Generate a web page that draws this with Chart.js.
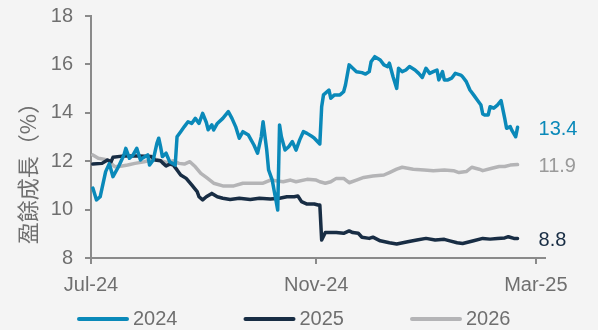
<!DOCTYPE html>
<html>
<head>
<meta charset="utf-8">
<script src="https://cdn.jsdelivr.net/npm/chart.js@4.4.0/dist/chart.umd.min.js"></script>
<style>
  html, body { margin: 0; padding: 0; background: #f4f4f4; }
  canvas { display: block; }
</style>
</head>
<body>
<canvas id="chart" width="598" height="330"></canvas>
<script>
// x values are days counted from 1 Jul 2024
const xTickDays = [0, 123, 243]
const xTickLabels = ["Jul-24", "Nov-24", "Mar-25"]
const yTitle = "盈餘成長（%）"
const seriesNames = ["2024", "2025", "2026"]

const days2024 = [
  1, 3, 5, 8, 10, 12, 15, 18, 19, 21,
  23, 25, 27, 28, 31, 32, 34, 36, 37, 38,
  39, 41, 43, 46, 47, 49, 51, 53, 55, 57,
  59, 61, 63, 64, 66, 67, 69, 72, 75, 77,
  79, 81, 83, 86, 89, 91, 93, 94, 96, 97,
  99, 100, 101, 102, 103, 104, 106, 108, 110, 112,
  114, 116, 118, 121, 122, 125, 126, 127, 130, 131,
  133, 136, 138, 139, 141, 142, 145, 148, 150, 152,
  153, 155, 158, 160, 162, 163, 165, 167, 168, 170,
  172, 174, 177, 179, 181, 183, 185, 187, 189, 190,
  192, 193, 195, 197, 199, 202, 203, 205, 207, 209,
  211, 213, 214, 215, 217, 218, 220, 222, 224, 226,
  227, 229, 230, 232, 233
]
const values2024 = [
  10.89, 10.4, 10.53, 11.57, 11.9, 11.36, 11.77, 12.26, 12.53, 12.12,
  12.26, 12.53, 12.05, 12.12, 12.26, 11.84, 12.05, 12.74, 12.95, 12.6,
  12.19, 12.33, 11.98, 11.84, 13.01, 13.22, 13.43, 13.63, 13.56, 13.77,
  13.56, 13.98, 13.6, 13.3, 13.5, 13.29, 13.56, 13.77, 14.05, 13.77,
  13.43, 12.95, 13.22, 13.08, 12.67, 12.33, 13.01, 13.63, 12.46, 11.64,
  11.22, 10.8, 10.4, 9.98, 13.5, 13.01, 12.46, 12.6, 12.81, 12.46,
  12.88, 13.22, 13.15, 13.01, 12.95, 12.71, 14.25, 14.74, 14.94, 14.6,
  14.74, 14.74, 14.87, 15.15, 15.98, 15.91, 15.7, 15.66, 15.6, 15.7,
  16.11, 16.32, 16.18, 15.98, 15.91, 16.05, 15.49, 15.01, 15.84, 15.7,
  15.77, 15.91, 15.77, 15.63, 15.46, 15.84, 15.63, 15.7, 15.77, 15.36,
  15.7, 15.36, 15.36, 15.43, 15.63, 15.56, 15.49, 15.29, 14.94, 14.74,
  14.53, 14.32, 13.95, 13.91, 13.91, 14.25, 14.19, 14.32, 14.5, 13.77,
  13.36, 13.43, 13.26, 13.01, 13.4
]

const days2025 = [
  1, 6, 9, 11, 12, 17, 26, 33, 35, 38,
  39, 41, 43, 45, 47, 49, 52, 55, 58, 59,
  61, 63, 66, 69, 72, 76, 81, 87, 92, 98,
  103, 107, 111, 113, 115, 118, 122, 124, 125, 126,
  128, 134, 138, 141, 143, 146, 148, 152, 154, 158,
  163, 167, 173, 178, 183, 188, 193, 196, 200, 203,
  209, 214, 218, 222, 226, 228, 231, 233
]
const values2025 = [
  11.88, 11.91, 12.05, 11.98, 12.16, 12.21, 12.21, 12.19, 12.05, 12.02,
  11.94, 11.8, 11.88, 11.84, 11.64, 11.43, 11.29, 11.02, 10.74, 10.53,
  10.4, 10.53, 10.67, 10.53, 10.47, 10.42, 10.47, 10.42, 10.47, 10.44,
  10.47, 10.53, 10.53, 10.56, 10.33, 10.23, 10.23, 10.19, 10.19, 8.74,
  9.05, 9.05, 9.02, 9.12, 9.05, 9.02, 8.86, 8.81, 8.86, 8.71,
  8.63, 8.58, 8.67, 8.74, 8.81, 8.74, 8.77, 8.71, 8.63, 8.6,
  8.71, 8.81, 8.78, 8.81, 8.83, 8.88, 8.81, 8.81
]

const days2026 = [
  1, 4, 7, 9, 11, 13, 17, 20, 24, 29,
  35, 38, 42, 45, 48, 51, 54, 57, 60, 63,
  67, 72, 78, 83, 89, 94, 98, 101, 105, 109,
  112, 118, 123, 125, 128, 131, 134, 138, 141, 145,
  149, 154, 160, 163, 167, 170, 173, 176, 182, 187,
  193, 198, 201, 205, 208, 212, 214, 219, 223, 226,
  229, 233
]
const values2026 = [
  12.26, 12.12, 12.08, 12.05, 11.91, 11.77, 11.8, 11.84, 11.91, 11.98,
  12.08, 12.02, 11.94, 12.02, 11.91, 11.88, 11.98, 11.77, 11.5, 11.33,
  11.09, 10.98, 10.98, 11.09, 11.09, 11.09, 11.22, 11.19, 11.15, 11.22,
  11.15, 11.25, 11.22, 11.15, 11.09, 11.15, 11.29, 11.29, 11.11, 11.22,
  11.33, 11.39, 11.43, 11.53, 11.67, 11.75, 11.71, 11.67, 11.64, 11.61,
  11.64, 11.61, 11.53, 11.57, 11.75, 11.67, 11.61, 11.71, 11.78, 11.78,
  11.84, 11.86
]

const lineColors = ["#0a89b9", "#182d44", "#b4b4b6"]
const labelColors = ["#0a89b9", "#182d44", "#9a9a9a"]
const textColor = "#6f6f6f"
const axisColor = "#8a8a8a"
const fontFamily = "'Liberation Sans', Arial, 'Noto Sans CJK TC', sans-serif"

function toPoints(days, values) {
  return days.map((d, i) => ({ x: d, y: values[i] }))
}

// value labels at the end of each line
const endLabels = {
  id: "endLabels",
  afterDatasetsDraw(chart) {
    const ctx = chart.ctx
    ctx.save()
    ctx.font = "20px " + fontFamily
    ctx.textAlign = "left"
    ctx.textBaseline = "middle"
    chart.data.datasets.forEach((ds, i) => {
      const meta = chart.getDatasetMeta(i)
      const last = meta.data[meta.data.length - 1]
      ctx.fillStyle = labelColors[i]
      ctx.fillText(ds.data[ds.data.length - 1].y.toFixed(1), last.x + 21, last.y + 2)
    })
    ctx.restore()
  },
}

// y title and legend row
const extras = {
  id: "extras",
  afterDraw(chart) {
    const ctx = chart.ctx
    ctx.save()
    ctx.fillStyle = textColor
    ctx.font = "22px 'Noto Sans CJK TC', sans-serif"
    ctx.textAlign = "center"
    ctx.textBaseline = "middle"
    ctx.translate(28, 168)
    ctx.rotate(-Math.PI / 2)
    ctx.fillText(yTitle, 0, 0)
    ctx.restore()

    ctx.save()
    ctx.font = "20px " + fontFamily
    ctx.textBaseline = "middle"
    ctx.textAlign = "left"
    const y = 319
    chart.data.datasets.forEach((ds, i) => {
      const x = 79 + i * 166.5
      ctx.strokeStyle = ds.borderColor
      ctx.lineWidth = 4
      ctx.lineCap = "round"
      ctx.beginPath()
      ctx.moveTo(x, y)
      ctx.lineTo(x + 48, y)
      ctx.stroke()
      ctx.fillStyle = textColor
      ctx.fillText(ds.label, x + 54, y)
    })
    ctx.restore()
  },
}

new Chart(document.getElementById("chart"), {
  type: "line",
  data: {
    datasets: [
      { label: seriesNames[0], data: toPoints(days2024, values2024) },
      { label: seriesNames[1], data: toPoints(days2025, values2025) },
      { label: seriesNames[2], data: toPoints(days2026, values2026) },
    ].map((ds, i) => ({
      ...ds,
      borderColor: lineColors[i],
      backgroundColor: lineColors[i],
      borderWidth: 3.5,
      pointRadius: 0,
      tension: 0,
      borderJoinStyle: "round",
      borderCapStyle: "round",
    })),
  },
  options: {
    responsive: false,
    animation: false,
    devicePixelRatio: 1,
    layout: { padding: { left: 0, right: 53, top: 16, bottom: 0 } },
    plugins: {
      legend: { display: false },
      tooltip: { enabled: false },
    },
    scales: {
      x: {
        type: "linear",
        min: 0,
        max: 248,
        afterBuildTicks: (scale) => {
          scale.ticks = xTickDays.map((v) => ({ value: v }))
        },
        afterFit: (scale) => {
          scale.height = 72
        },
        ticks: {
          color: textColor,
          font: { family: fontFamily, size: 20 },
          padding: 9,
          maxRotation: 0,
          autoSkip: false,
          callback: (value) => xTickLabels[xTickDays.indexOf(value)],
        },
        grid: { drawOnChartArea: false, color: axisColor, lineWidth: 2, tickLength: 6 },
        border: { color: axisColor, width: 2 },
      },
      y: {
        min: 8,
        max: 18,
        afterFit: (scale) => {
          scale.width = 91
          scale.paddingTop = 0
          scale.paddingBottom = 0
        },
        ticks: {
          stepSize: 2,
          color: textColor,
          font: { family: fontFamily, size: 20, lineHeight: 0.8 },
          padding: 12,
        },
        grid: { drawOnChartArea: false, color: axisColor, lineWidth: 2, tickLength: 6 },
        border: { color: axisColor, width: 2 },
      },
    },
  },
  plugins: [endLabels, extras],
})
</script>
</body>
</html>
